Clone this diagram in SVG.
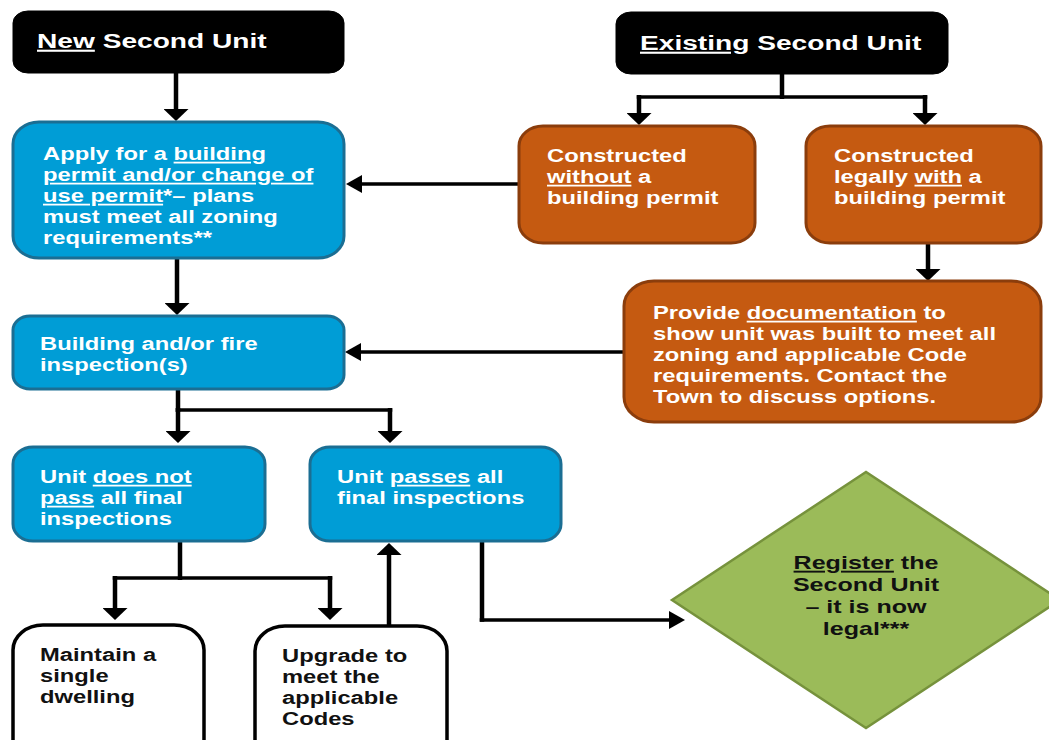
<svg xmlns="http://www.w3.org/2000/svg" width="1049" height="740" viewBox="0 0 1049 740">
<style>
.blk{fill:#000;stroke:#000;stroke-width:1}
.blue{fill:#009DD6;stroke:#1B6E93;stroke-width:3}
.org{fill:#C55A11;stroke:#8B3D0C;stroke-width:3}
.wht{fill:#fff;stroke:#000;stroke-width:3.5}
.grn{fill:#9BBB59;stroke:#76923C;stroke-width:2.5}
text{font-family:"Liberation Sans",Arial,sans-serif;font-weight:bold;font-size:18px}
.w{fill:#fff}
.d{fill:#111}
.ttl{font-size:21px}
.dm{font-size:19px}
.u{text-decoration:underline}
.v{stroke:#000;stroke-width:4.5;fill:none}
.h{stroke:#000;stroke-width:3.5;fill:none}
</style>
<defs>
<marker id="av" markerUnits="userSpaceOnUse" markerWidth="12" markerHeight="25" refX="7" refY="12.5" orient="auto">
<path d="M0,0 L12,12.5 L0,25 z" fill="#000"/>
</marker>
<marker id="ah" markerUnits="userSpaceOnUse" markerWidth="16" markerHeight="18" refX="10" refY="9" orient="auto">
<path d="M0,0 L16,9 L0,18 z" fill="#000"/>
</marker>
</defs>
<rect width="1049" height="740" fill="#fff"/>

<g id="connectors">
<line class="v" x1="176" y1="73" x2="176" y2="116" marker-end="url(#av)"/>
<line class="v" x1="782" y1="74" x2="782" y2="99"/>
<line class="h" x1="636.75" y1="97" x2="927.25" y2="97"/>
<line class="v" x1="639" y1="95" x2="639" y2="120" marker-end="url(#av)"/>
<line class="v" x1="925" y1="95" x2="925" y2="120" marker-end="url(#av)"/>
<line class="h" x1="518" y1="184" x2="352" y2="184" marker-end="url(#ah)"/>
<line class="v" x1="928" y1="243" x2="928" y2="276" marker-end="url(#av)"/>
<line class="v" x1="177" y1="258" x2="177" y2="310" marker-end="url(#av)"/>
<line class="h" x1="623" y1="352" x2="351" y2="352" marker-end="url(#ah)"/>
<line class="v" x1="178" y1="389" x2="178" y2="412"/>
<line class="h" x1="175.75" y1="410" x2="392.25" y2="410"/>
<line class="v" x1="178" y1="408" x2="178" y2="438" marker-end="url(#av)"/>
<line class="v" x1="390" y1="408" x2="390" y2="438" marker-end="url(#av)"/>
<line class="v" x1="180" y1="541" x2="180" y2="580"/>
<line class="h" x1="112.75" y1="578" x2="332.25" y2="578"/>
<line class="v" x1="115" y1="576" x2="115" y2="615" marker-end="url(#av)"/>
<line class="v" x1="330" y1="576" x2="330" y2="615" marker-end="url(#av)"/>
<line class="v" x1="389" y1="626" x2="389" y2="548" marker-end="url(#av)"/>
<line class="v" x1="482" y1="541" x2="482" y2="621.75"/>
<line class="h" x1="479.75" y1="620" x2="679" y2="620" marker-end="url(#ah)"/>
</g>

<g id="new-unit">
<rect class="blk" x="13" y="11" width="331" height="62" rx="15" ry="12"/>
<g transform="translate(37,0) scale(1.34,1)">
<text class="w ttl" x="0" y="48"><tspan class="u">New</tspan> Second Unit</text>
</g>
</g>

<g id="existing-unit">
<rect class="blk" x="616" y="12" width="332" height="62" rx="15" ry="12"/>
<g transform="translate(640,0) scale(1.34,1)">
<text class="w ttl" x="0" y="50"><tspan class="u">Existing</tspan> Second Unit</text>
</g>
</g>

<g id="apply">
<rect class="blue" x="13" y="122" width="331" height="136" rx="26" ry="22"/>
<g transform="translate(43,0) scale(1.32,1)">
<text class="w" x="0" y="160">Apply for a <tspan class="u">building</tspan></text>
<text class="w" x="0" y="181"><tspan class="u">permit and/or change of</tspan></text>
<text class="w" x="0" y="202"><tspan class="u">use permit</tspan>*– plans</text>
<text class="w" x="0" y="223">must meet all zoning</text>
<text class="w" x="0" y="244">requirements**</text>
</g>
</g>

<g id="without-permit">
<rect class="org" x="519" y="126" width="236" height="117" rx="24" ry="20"/>
<g transform="translate(547,0) scale(1.32,1)">
<text class="w" x="0" y="162">Constructed</text>
<text class="w" x="0" y="183"><tspan class="u">without</tspan> a</text>
<text class="w" x="0" y="204">building permit</text>
</g>
</g>

<g id="with-permit">
<rect class="org" x="806" y="126" width="235" height="117" rx="24" ry="20"/>
<g transform="translate(834,0) scale(1.32,1)">
<text class="w" x="0" y="162">Constructed</text>
<text class="w" x="0" y="183">legally <tspan class="u">with</tspan> a</text>
<text class="w" x="0" y="204">building permit</text>
</g>
</g>

<g id="documentation">
<rect class="org" x="624" y="281" width="417" height="141" rx="30" ry="25"/>
<g transform="translate(653,0) scale(1.32,1)">
<text class="w" x="0" y="319">Provide <tspan class="u">documentation</tspan> to</text>
<text class="w" x="0" y="340">show unit was built to meet all</text>
<text class="w" x="0" y="361">zoning and applicable Code</text>
<text class="w" x="0" y="382">requirements. Contact the</text>
<text class="w" x="0" y="403">Town to discuss options.</text>
</g>
</g>

<g id="inspection">
<rect class="blue" x="13" y="316" width="331" height="73" rx="17" ry="14"/>
<g transform="translate(40,0) scale(1.32,1)">
<text class="w" x="0" y="350">Building and/or fire</text>
<text class="w" x="0" y="371">inspection(s)</text>
</g>
</g>

<g id="not-pass">
<rect class="blue" x="13" y="447" width="252" height="94" rx="20" ry="17"/>
<g transform="translate(40,0) scale(1.32,1)">
<text class="w" x="0" y="483">Unit <tspan class="u">does not</tspan></text>
<text class="w" x="0" y="504"><tspan class="u">pass</tspan> all final</text>
<text class="w" x="0" y="525">inspections</text>
</g>
</g>

<g id="passes">
<rect class="blue" x="310" y="447" width="251" height="94" rx="20" ry="17"/>
<g transform="translate(337,0) scale(1.32,1)">
<text class="w" x="0" y="483">Unit <tspan class="u">passes</tspan> all</text>
<text class="w" x="0" y="504">final inspections</text>
</g>
</g>

<g id="maintain">
<rect class="wht" x="13" y="625" width="191" height="140" rx="30" ry="25"/>
<g transform="translate(40,0) scale(1.32,1)">
<text class="d" x="0" y="661">Maintain a</text>
<text class="d" x="0" y="682">single</text>
<text class="d" x="0" y="703">dwelling</text>
</g>
</g>

<g id="upgrade">
<rect class="wht" x="255" y="626" width="192" height="140" rx="30" ry="25"/>
<g transform="translate(282,0) scale(1.32,1)">
<text class="d" x="0" y="662">Upgrade to</text>
<text class="d" x="0" y="683">meet the</text>
<text class="d" x="0" y="704">applicable</text>
<text class="d" x="0" y="725">Codes</text>
</g>
</g>

<g id="register">
<polygon class="grn" points="672,600 866,472 1060,600 866,728"/>
<g transform="translate(866,0) scale(1.32,1)">
<text class="d dm" x="0" y="569" text-anchor="middle"><tspan class="u">Register</tspan> the</text>
<text class="d dm" x="0" y="591" text-anchor="middle">Second Unit</text>
<text class="d dm" x="0" y="613" text-anchor="middle">– it is now</text>
<text class="d dm" x="0" y="635" text-anchor="middle">legal***</text>
</g>
</g>
</svg>
